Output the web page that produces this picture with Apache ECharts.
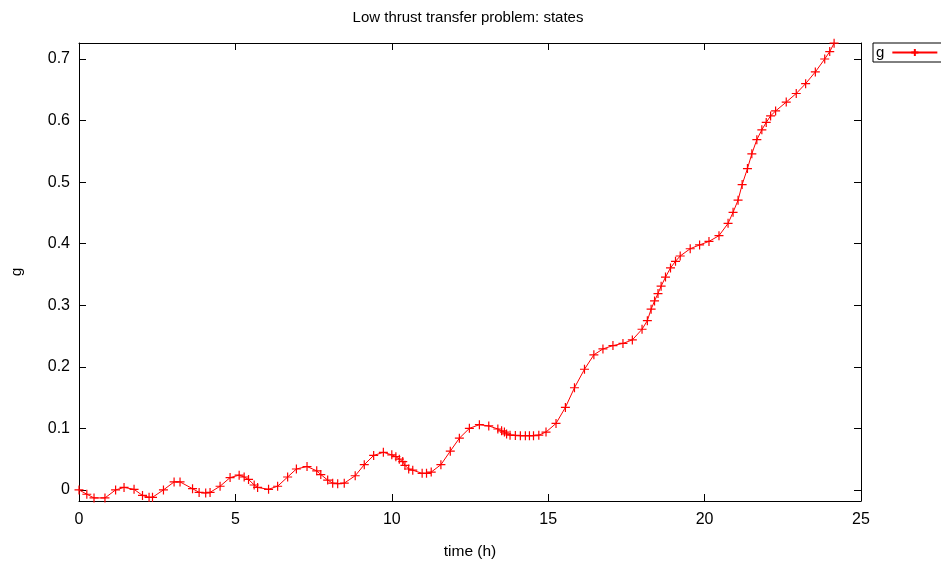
<!DOCTYPE html>
<html>
<head>
<meta charset="utf-8">
<script src="https://cdn.jsdelivr.net/npm/echarts@6/dist/echarts.min.js"></script>
<style>html,body{margin:0;padding:0;background:#fff;}#c{width:941px;height:565px;}</style>
</head>
<body>
<div id="c"></div>
<script>
var timeH = [0, 0.25, 0.48, 0.83, 1.17, 1.44, 1.76, 2.03, 2.24, 2.35, 2.70, 3.04, 3.23, 3.63, 3.84, 4.05, 4.19, 4.51, 4.83, 5.12, 5.28, 5.42, 5.6, 5.71, 6.06, 6.35, 6.67, 6.95, 7.29, 7.6, 7.73, 7.95, 8.11, 8.27, 8.48, 8.83, 9.12, 9.42, 9.73, 10.0, 10.13, 10.24, 10.35, 10.42, 10.54, 10.67, 10.97, 11.11, 11.26, 11.57, 11.87, 12.16, 12.48, 12.8, 13.1, 13.39, 13.51, 13.6, 13.67, 13.78, 13.95, 14.11, 14.27, 14.4, 14.53, 14.7, 14.93, 15.25, 15.55, 15.84, 16.16, 16.46, 16.75, 17.07, 17.39, 17.69, 18.0, 18.17, 18.29, 18.4, 18.51, 18.61, 18.75, 18.91, 19.07, 19.22, 19.54, 19.84, 20.14, 20.46, 20.75, 20.91, 21.07, 21.2, 21.37, 21.51, 21.67, 21.83, 21.97, 22.11, 22.27, 22.61, 22.93, 23.23, 23.54, 23.84, 24.0, 24.14];
var gValues = [0, -0.007, -0.013, -0.013, 0.0, 0.004, 0.001, -0.009, -0.012, -0.012, 0.0, 0.013, 0.013, 0.002, -0.004, -0.005, -0.004, 0.006, 0.02, 0.024, 0.021, 0.017, 0.008, 0.004, 0.001, 0.006, 0.021, 0.034, 0.038, 0.031, 0.025, 0.016, 0.011, 0.010, 0.011, 0.023, 0.041, 0.056, 0.061, 0.057, 0.054, 0.050, 0.046, 0.040, 0.034, 0.032, 0.027, 0.027, 0.029, 0.041, 0.063, 0.084, 0.100, 0.106, 0.104, 0.099, 0.096, 0.094, 0.091, 0.089, 0.0886, 0.088, 0.088, 0.088, 0.088, 0.089, 0.094, 0.108, 0.134, 0.166, 0.196, 0.2195, 0.229, 0.2345, 0.238, 0.2437, 0.261, 0.275, 0.2936, 0.307, 0.319, 0.331, 0.3457, 0.3607, 0.3714, 0.38, 0.3918, 0.398, 0.4037, 0.413, 0.433, 0.451, 0.4707, 0.496, 0.522, 0.546, 0.569, 0.585, 0.597, 0.6076, 0.6156, 0.63, 0.644, 0.66, 0.679, 0.7, 0.712, 0.7257];
var titleText = 'Low thrust transfer problem: states';
var xName = 'time (h)';
var yName = 'g';
var seriesName = 'g';

var FONT = '"Liberation Sans", Arial, sans-serif';
var pts = timeH.map(function (t, i) { return [t, gValues[i]]; });
var plus = 'path://M0,5L10,5M5,0L5,10';

var chart = echarts.init(document.getElementById('c'), null, {renderer: 'canvas'});
function axisCommon() {
  return {
    axisLine: {show: true, onZero: false, lineStyle: {color: '#000', width: 1}},
    axisTick: {show: true, inside: true, length: 7, lineStyle: {color: '#000'}},
    splitLine: {show: false}
  };
}
chart.setOption({
  animation: false,
  backgroundColor: '#fff',
  title: {
    text: titleText, left: 463, top: 5, textAlign: 'center',
    textStyle: {fontFamily: FONT, fontSize: 15, fontWeight: 'normal', color: '#000'}
  },
  legend: {
    left: 873, top: 43, align: 'right', orient: 'horizontal',
    padding: [2, 8, 2, 3],
    borderColor: '#000', borderWidth: 1, borderRadius: 0,
    itemWidth: 45, itemHeight: 9, itemGap: 5,
    textStyle: {fontFamily: FONT, fontSize: 15, color: '#000', padding: [0, 3, 0, 0]},
    data: [{name: seriesName}]
  },
  grid: {left: 79, right: 80, top: 43, bottom: 60, containLabel: false},
  xAxis: [
    Object.assign(axisCommon(), {
      type: 'value', min: 0, max: 25, interval: 5, position: 'bottom',
      name: xName, nameLocation: 'middle', nameGap: 43,
      nameTextStyle: {fontFamily: FONT, fontSize: 15.5, color: '#000'},
      axisLabel: {fontFamily: FONT, fontSize: 16, color: '#000', margin: 11}
    }),
    Object.assign(axisCommon(), {
      type: 'value', min: 0, max: 25, interval: 5, position: 'top',
      axisLabel: {show: false}
    })
  ],
  yAxis: [
    Object.assign(axisCommon(), {
      type: 'value', min: -0.018, max: 0.726, splitNumber: 7, position: 'left',
      name: yName, nameLocation: 'middle', nameGap: 54, nameRotate: 90,
      nameTextStyle: {fontFamily: FONT, fontSize: 15.5, color: '#000'},
      axisLabel: {
        fontFamily: FONT, fontSize: 16, color: '#000', margin: 9,
        showMinLabel: false, showMaxLabel: false,
        formatter: function (v) {
          var r = Math.round(v * 10) / 10;
          if (Math.abs(r - v) > 1e-6) return '';
          return String(r);
        }
      }
    }),
    Object.assign(axisCommon(), {
      type: 'value', min: -0.018, max: 0.726, splitNumber: 7, position: 'right',
      axisLabel: {show: false}
    })
  ],
  series: [{
    name: seriesName, type: 'line', data: pts,
    xAxisIndex: 0, yAxisIndex: 0,
    symbol: plus, symbolSize: 9, showSymbol: true,
    lineStyle: {color: '#ff0000', width: 1},
    itemStyle: {color: '#ff0000', borderColor: '#ff0000', borderWidth: 1.2},
    smooth: false, clip: false
  }]
});
</script>
</body>
</html>
